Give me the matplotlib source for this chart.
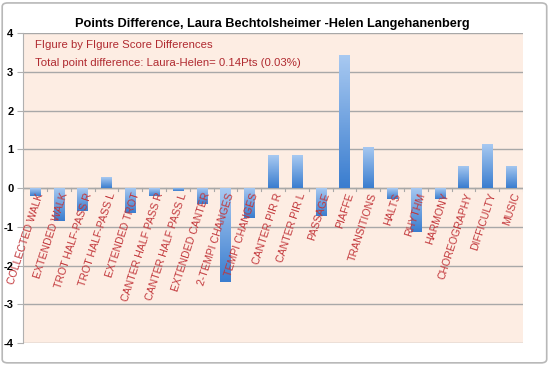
import numpy as np
import matplotlib
matplotlib.use("Agg")
import matplotlib.pyplot as plt
from matplotlib.patches import FancyBboxPatch

# Data
categories = ["COLLECTED WALK", "EXTENDED WALK", "TROT HALF-PASS R", "TROT HALF-PASS L",
              "EXTENDED TROT", "CANTER HALF PASS R", "CANTER HALF PASS L", "EXTENDED CANTER",
              "2-TEMPI CHANGES", "TEMPI CHANGES", "CANTER PIR R", "CANTER PIR L", "PASSAGE",
              "PIAFFE", "TRANSITIONS", "HALTS", "RHYTHM", "HARMONY", "CHOREOGRAPHY",
              "DIFFICULTY", "MUSIC"]
differences = [-0.2, -0.86, -0.58, 0.28, -0.65, -0.2, -0.08, -0.42, -2.43, -0.78,
               0.85, 0.85, -0.72, 3.43, 1.06, -0.27, -1.14, -0.27, 0.57, 1.13, 0.57]
yticks = [-4, -3, -2, -1, 0, 1, 2, 3, 4]

plt.rcParams['font.family'] = ['Liberation Sans', 'DejaVu Sans']

fig = plt.figure(figsize=(5.5, 3.68), dpi=100)
fig.patches.append(FancyBboxPatch((0.004, 0.014), 0.99, 0.978, boxstyle="round,pad=0,rounding_size=0.01",
                                  transform=fig.transFigure, facecolor="white",
                                  edgecolor="#b8b8b8", linewidth=1.2, zorder=-10))
ax = fig.add_axes([0.042, 0.068, 0.909, 0.842])
ax.set_facecolor("#fdede3")

x = np.arange(len(categories))
bars = ax.bar(x, differences, width=0.43, color="none", zorder=3)

# gradient fill for each bar
grad = np.linspace(0, 1, 100).reshape(-1, 1)
cmap = matplotlib.colors.LinearSegmentedColormap.from_list("g", ["#3a7dcf", "#a8c9f1"])
for b in bars:
    bx, by = b.get_x(), b.get_y()
    w, h = b.get_width(), b.get_height()
    y0, y1 = min(by, by + h), max(by, by + h)
    im = ax.imshow(grad, extent=[bx, bx + w, y0, y1], origin="lower", cmap=cmap,
                   aspect="auto", zorder=3)
    im.set_clip_path(b)

ax.set_xlim(-0.5, len(categories) - 0.5)
ax.set_ylim(-4, 4)
ax.set_yticks(yticks)
ax.set_yticklabels([str(t) for t in yticks], fontweight="bold", fontsize=8)
ax.yaxis.grid(True, color="#a8a8a8", linewidth=1)
ax.set_axisbelow(True)
for s in ["top", "right", "bottom"]:
    ax.spines[s].set_visible(False)
ax.spines["left"].set_color("#b0b0b0")
ax.tick_params(axis="y", length=4, color="#b0b0b0", pad=3)

# x axis at zero with boundary ticks
ax.axhline(0, color="#a8a8a8", linewidth=1, zorder=2)
ax.set_xticks([])
for b in np.arange(-0.5, len(categories), 1.0):
    ax.plot([b, b], [0, -0.08], color="#a8a8a8", linewidth=0.8, zorder=2)

for xi, name in zip(x, categories):
    ax.text(xi + 0.05, -0.09, name, rotation=72, ha="right", va="top",
            rotation_mode="anchor", color="#c2363a", fontsize=7.6, zorder=4)

ax.text(0.024, 0.961, "FIgure by FIgure Score Differences", transform=ax.transAxes,
        color="#b02a30", fontsize=8.2, va="center")
ax.text(0.024, 0.903, "Total point difference: Laura-Helen= 0.14Pts (0.03%)",
        transform=ax.transAxes, color="#b02a30", fontsize=8.2, va="center")

fig.text(0.495, 0.935, "Points Difference, Laura Bechtolsheimer -Helen Langehanenberg",
         ha="center", va="center", fontsize=9.2, fontweight="bold")

fig.savefig("out.png", dpi=100)
